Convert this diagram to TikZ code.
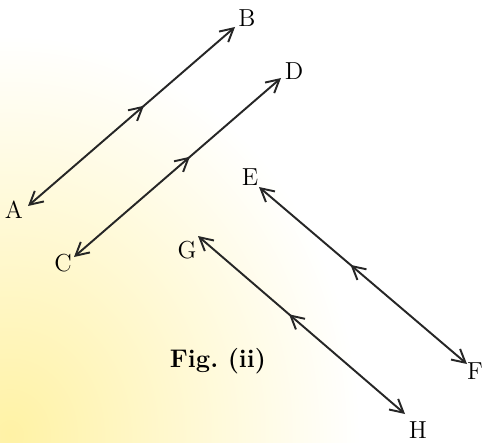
\documentclass[tikz,border=0pt]{standalone}
\usepackage{tikz}
\usetikzlibrary{arrows.meta,decorations.markings}

\definecolor{paleyellow}{RGB}{255,242,165}

\begin{document}
\begin{tikzpicture}[
        x=0.02cm, y=-0.02cm,
        every node/.style={font=\fontsize{14}{16}\selectfont},
        dline/.style={{Straight Barb[length=2.6mm, width=2.8mm]}-{Straight Barb[length=2.6mm, width=2.8mm]}, line width=1.1pt, black!85},
        midto/.style={postaction={decorate, decoration={markings,
            mark=at position 0.56 with {\arrow{Straight Barb[length=2.6mm, width=2.8mm]}}}}},
        midback/.style={postaction={decorate, decoration={markings,
            mark=at position 0.44 with {\arrowreversed{Straight Barb[length=2.6mm, width=2.8mm]}}}}},
        lbl/.style={inner sep=1pt},
        caption/.style={font=\fontsize{14.5}{16}\selectfont\bfseries}
    ]

        % background
        \useasboundingbox (0,0) rectangle (482,442);
        \fill[white] (0,0) rectangle (482,442);
        \begin{scope}
            \clip (0,0) rectangle (482,442);
            \shade[inner color=paleyellow, outer color=white] (10,435) ellipse (7cm and 8cm);
        \end{scope}

        % end points
        \coordinate (a) at (28,206);
        \coordinate (b) at (235,27);
        \coordinate (c) at (74,257);
        \coordinate (d) at (281,78);
        \coordinate (e) at (259,187);
        \coordinate (f) at (467,364);
        \coordinate (g) at (198,236);
        \coordinate (h) at (405,414);

        % labels
        \node[lbl] (la) at (14,210) {A};
        \node[lbl] (lb) at (247,18)  {B};
        \node[lbl] (lc) at (63,263) {C};
        \node[lbl] (ld) at (294,71)  {D};
        \node[lbl] (le) at (250,177) {E};
        \node[lbl] (lf) at (475,371) {F};
        \node[lbl] (lg) at (187,250) {G};
        \node[lbl] (lh) at (418,430) {H};

        \draw[dline, midto] (a) -- (b);
        \draw[dline, midto] (c) -- (d);
        \draw[dline, midback] (e) -- (f);
        \draw[dline, midback] (g) -- (h);

        \node[caption] (fig) at (218,361) {Fig.\ (ii)};

    \end{tikzpicture}
\end{document}
